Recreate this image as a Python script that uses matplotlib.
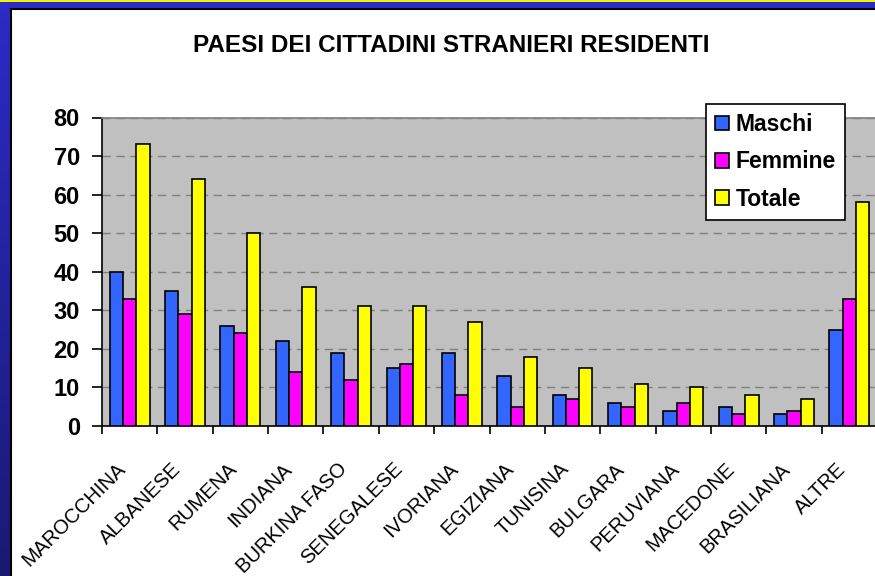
import numpy as np
import matplotlib
matplotlib.use("Agg")
import matplotlib.pyplot as plt
from matplotlib.patches import Rectangle

paesi = ["MAROCCHINA", "ALBANESE", "RUMENA", "INDIANA", "BURKINA FASO",
         "SENEGALESE", "IVORIANA", "EGIZIANA", "TUNISINA", "BULGARA",
         "PERUVIANA", "MACEDONE", "BRASILIANA", "ALTRE"]
maschi = [40, 35, 26, 22, 19, 15, 19, 13, 8, 6, 4, 5, 3, 25]
femmine = [33, 29, 24, 14, 12, 16, 8, 5, 7, 5, 6, 3, 4, 33]
totale = [73, 64, 50, 36, 31, 31, 27, 18, 15, 11, 10, 8, 7, 58]

plt.rcParams['font.family'] = ['Liberation Sans', 'DejaVu Sans']

W, H = 875, 576
fig = plt.figure(figsize=(W / 100, H / 100), dpi=100)
fig.patch.set_facecolor("white")

# blue frame (left and top), gradient on the left band
grad = np.linspace(0, 1, 256).reshape(-1, 1)
band = fig.add_axes([0, 0, 10 / W, 1])
top_c = np.array([0.17, 0.17, 0.78])
bot_c = np.array([0.10, 0.10, 0.45])
img = top_c[None, None, :] * (1 - grad[:, :, None]) + bot_c[None, None, :] * grad[:, :, None]
band.imshow(img, aspect="auto", extent=[0, 1, 0, 1])
band.axis("off")
fig.patches.append(Rectangle((0, 1 - 8 / H), 1, 8 / H, transform=fig.transFigure,
                             facecolor="#2c2cc8", edgecolor="none", zorder=0))
fig.patches.append(Rectangle((0, 1 - 1.5 / H), 1, 1.5 / H, transform=fig.transFigure,
                             facecolor="#f0f000", edgecolor="none", zorder=1))
fig.lines.append(plt.Line2D([10.5 / W, 10.5 / W], [0, 1 - 8.5 / H], transform=fig.transFigure,
                            color="black", lw=1.5))
fig.lines.append(plt.Line2D([10.5 / W, 1], [1 - 8.5 / H, 1 - 8.5 / H], transform=fig.transFigure,
                            color="black", lw=1.5))

ax = fig.add_axes([102 / W, 1 - 426 / H, 775 / W, (426 - 117.5) / H])
ax.set_facecolor("#c0c0c0")

x = np.arange(len(paesi))
w = 0.24
kw = dict(width=w, edgecolor="black", linewidth=1.2, zorder=3)
ax.bar(x - w, maschi, color="#3366ff", label="Maschi", **kw)
ax.bar(x, femmine, color="#ff00ff", label="Femmine", **kw)
ax.bar(x + w, totale, color="#ffff00", label="Totale", **kw)

ax.set_xlim(-0.5, len(paesi) - 0.5)
ax.set_ylim(0, 80)
ax.set_yticks(range(0, 81, 10))
ax.yaxis.grid(True, color="#808080", linestyle=(0, (6, 4)), linewidth=1, zorder=0)
ax.set_axisbelow(True)
ax.tick_params(axis="y", direction="out", length=7, width=1.2, labelsize=17, pad=9)
for t in ax.get_yticklabels():
    t.set_fontweight("bold")

ax.set_xticks(np.arange(len(paesi) + 1) - 0.5, minor=True)
ax.set_xticks(x)
ax.set_xticklabels(paesi, rotation=45, ha="right", va="top", fontsize=14.5)
ax.tick_params(axis="x", which="major", length=0, pad=24)
ax.tick_params(axis="x", which="minor", direction="out", length=6, width=1.2)

for s in ["left", "bottom"]:
    ax.spines[s].set_color("black")
    ax.spines[s].set_linewidth(1.2)
ax.spines["top"].set_color("#808080")
ax.spines["top"].set_linewidth(1.2)
ax.spines["right"].set_visible(False)

leg = ax.legend(loc="upper left", bbox_to_anchor=(706 / W, 1 - 104 / H),
                bbox_transform=fig.transFigure, frameon=True, fancybox=False,
                prop={"weight": "bold", "size": 16.5}, handlelength=0.6,
                handleheight=0.6, handletextpad=0.3, borderpad=0.4,
                labelspacing=0.62, borderaxespad=0)
leg.get_frame().set_edgecolor("black")
leg.get_frame().set_linewidth(1.2)
leg.get_frame().set_alpha(1)

fig.text(451 / W, 1 - 46 / H, "PAESI DEI CITTADINI STRANIERI RESIDENTI",
         ha="center", va="center", fontsize=17.5, fontweight="bold")

fig.savefig("out.png", dpi=100)
